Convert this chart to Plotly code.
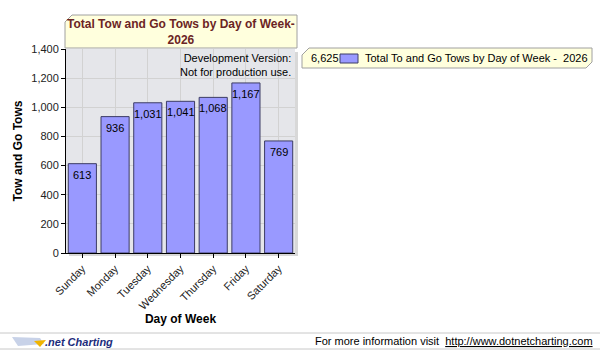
import plotly.graph_objects as go

days = ["Sunday", "Monday", "Tuesday", "Wednesday", "Thursday", "Friday", "Saturday"]
tows = [613, 936, 1031, 1041, 1068, 1167, 769]
y_ticks = [0, 200, 400, 600, 800, 1000, 1200, 1400]
title_text = "Total Tow and Go Tows by Day of Week-<br>2026"
series_name = "Total To and Go Tows by Day of Week -  2026"

total = sum(tows)
FONT = "Liberation Sans, Arial, sans-serif"

fig = go.Figure()
fig.add_trace(go.Bar(
    x=days, y=tows,
    marker=dict(color="#9999ff", line=dict(color="#3c3c64", width=1)),
    width=0.86,
    showlegend=False,
))

# plot area px: x 66..295, y 49..253
L, R, T, B = 66, 295, 49, 253
W, H = R - L, B - T
def px(x): return (x - L) / W
def py(y): return (B - y) / H

shapes = []
# shadow of plot area
shapes.append(dict(type="rect", xref="paper", yref="paper", layer="below",
                   x0=px(L + 3), x1=px(R + 3), y0=py(B + 3), y1=py(T + 3),
                   fillcolor="#d8d8d8", line=dict(width=0)))
shapes.append(dict(type="rect", xref="paper", yref="paper", layer="below",
                   x0=0, x1=1, y0=0, y1=1,
                   fillcolor="#e5e6ea", line=dict(width=0)))
# title box
shapes.append(dict(type="path", xref="paper", yref="paper",
                   path=f"M {px(65)},{py(48)} L {px(65)},{py(22)} L {px(72)},{py(15)} L {px(297)},{py(15)} L {px(297)},{py(48)} Z",
                   fillcolor="#ffffdd", line=dict(color="#a0a0a0", width=1)))
# legend box
shapes.append(dict(type="path", xref="paper", yref="paper",
                   path=f"M {px(302)},{py(68)} L {px(302)},{py(55)} L {px(309)},{py(48)} L {px(592)},{py(48)} L {px(592)},{py(62)} L {px(586)},{py(68)} Z",
                   fillcolor="#ffffdd", line=dict(color="#a0a0a0", width=1)))
# legend swatch
shapes.append(dict(type="rect", xref="paper", yref="paper",
                   x0=px(340), x1=px(358), y0=py(63), y1=py(54),
                   fillcolor="#9999ff", line=dict(color="#3c3c64", width=1)))
# footer lines
shapes.append(dict(type="line", xref="paper", yref="paper",
                   x0=px(0), x1=px(600), y0=py(333), y1=py(333),
                   line=dict(color="#c8c8c8", width=1)))
shapes.append(dict(type="line", xref="paper", yref="paper",
                   x0=px(0), x1=px(600), y0=py(349), y1=py(349),
                   line=dict(color="#c8c8c8", width=1)))
# logo hint
shapes.append(dict(type="path", xref="paper", yref="paper",
                   path=f"M {px(12)},{py(337)} L {px(40)},{py(338)} L {px(44)},{py(344)} L {px(18)},{py(346)} Z",
                   fillcolor="#c8d2e8", line=dict(width=0)))
shapes.append(dict(type="path", xref="paper", yref="paper",
                   path=f"M {px(34)},{py(341)} L {px(46)},{py(340)} L {px(40)},{py(347)} Z",
                   fillcolor="#f0b400", line=dict(width=0)))

annotations = [
    dict(text=f"<b>{title_text}</b>", xref="paper", yref="paper",
         x=px(181), y=py(31.5), xanchor="center", yanchor="middle", showarrow=False,
         font=dict(family=FONT, size=12, color="#6b2424"), align="center"),
    dict(text="Development Version:<br>Not for production use.", xref="paper", yref="paper",
         x=px(293), y=py(50), xanchor="right", yanchor="top", showarrow=False,
         font=dict(family=FONT, size=11, color="#000000"), align="right"),
    dict(text=f"{total:,}", xref="paper", yref="paper",
         x=px(309), y=py(58.5), xanchor="left", yanchor="middle", showarrow=False,
         font=dict(family=FONT, size=11, color="#000000")),
    dict(text=series_name, xref="paper", yref="paper",
         x=px(363), y=py(58.5), xanchor="left", yanchor="middle", showarrow=False,
         font=dict(family=FONT, size=11, color="#000000")),
    dict(text="<b><i>.net Charting</i></b>", xref="paper", yref="paper",
         x=px(43), y=py(342), xanchor="left", yanchor="middle", showarrow=False,
         font=dict(family=FONT, size=11, color="#1c2c7c")),
    dict(text="For more information visit  <u>http://www.dotnetcharting.com</u>", xref="paper", yref="paper",
         x=px(595), y=py(341), xanchor="right", yanchor="middle", showarrow=False,
         font=dict(family=FONT, size=11, color="#000000")),
]
# value labels inside bar tops, placed via data coordinates
for d, v in zip(days, tows):
    annotations.append(dict(text=f"{v:,}", x=d, y=v, xref="x", yref="y",
                            yanchor="middle", xanchor="center", yshift=-11, showarrow=False,
                            font=dict(family=FONT, size=11, color="#000000")))

fig.update_layout(
    width=600, height=350,
    margin=dict(l=L, r=600 - R, t=T, b=350 - B, pad=0),
    paper_bgcolor="#ffffff",
    plot_bgcolor="rgba(0,0,0,0)",
    shapes=shapes, annotations=annotations,
    bargap=0.14,
    font=dict(family=FONT, size=11, color="#000000"),
    xaxis=dict(
        tickangle=-45, showgrid=True, gridcolor="#d2d2d2", gridwidth=1,
        showline=True, linecolor="#000000", linewidth=1,
        ticks="outside", ticklen=4, tickcolor="#000000",
        tickfont=dict(family=FONT, size=11, color="#222222"),
        title=dict(text="<b>Day of Week</b>", font=dict(family=FONT, size=12, color="#000000"), standoff=2),
    ),
    yaxis=dict(
        range=[0, 1400], tickvals=y_ticks, ticktext=[f"{v:,}" for v in y_ticks],
        showgrid=True, gridcolor="#d2d2d2", gridwidth=1, zeroline=False,
        showline=True, linecolor="#000000", linewidth=1,
        ticks="outside", ticklen=4, tickcolor="#000000",
        tickfont=dict(family=FONT, size=11, color="#222222"),
        title=dict(text="<b>Tow and Go Tows</b>", font=dict(family=FONT, size=12, color="#000000"), standoff=6),
    ),
)

fig.write_html("out.html")
